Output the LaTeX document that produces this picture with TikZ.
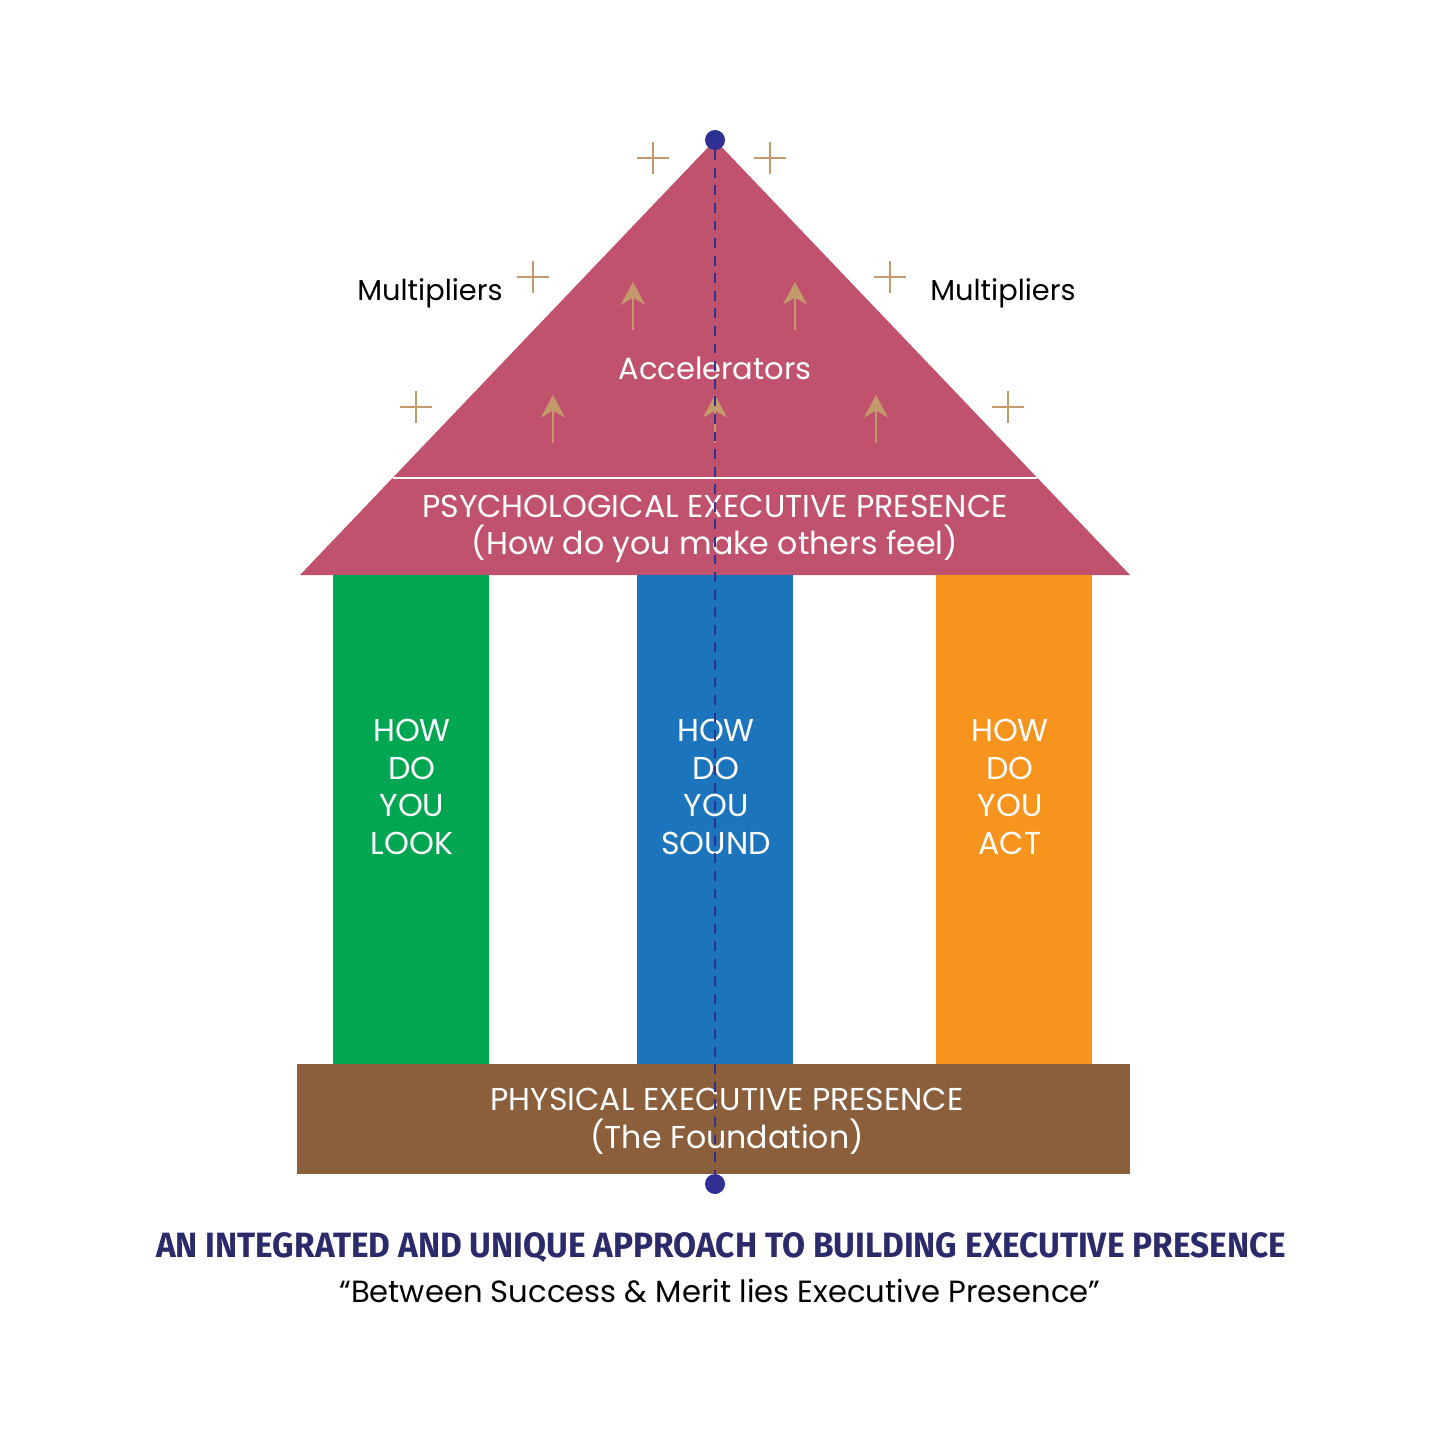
\documentclass[tikz,border=0pt]{standalone}
\usepackage{fontspec}
\setmainfont{Poppins}
\newfontfamily\titlefont{Fira Sans}
\usetikzlibrary{arrows.meta}
\definecolor{roofpink}{HTML}{C1526E}
\definecolor{lookgreen}{HTML}{00A651}
\definecolor{soundblue}{HTML}{1C75BC}
\definecolor{actorange}{HTML}{F7941D}
\definecolor{basebrown}{HTML}{8B5E3C}
\definecolor{accgold}{HTML}{C49A6C}
\definecolor{axisnavy}{HTML}{2E3192}
\definecolor{titlenavy}{HTML}{2B2A6B}
\tikzset{pillar/.style={draw=none,minimum width=3.9cm,minimum height=12.225cm,inner sep=0pt},
  wtext/.style={text=white,align=center,inner sep=0pt,font=\fontsize{22.5}{26.8}\selectfont},
  plus/.style={draw=accgold,line width=1.4pt},
  upar/.style={draw=accgold,line width=2pt,-{Stealth[length=16pt,width=17pt,inset=5pt]}},
  dot/.style={circle,fill=axisnavy,minimum size=0.5cm,inner sep=0pt}}

\begin{document}
\begin{tikzpicture}[x=0.025cm,y=-0.025cm]
\useasboundingbox (0,0) rectangle (1440,1440);
% roof
\fill[roofpink] (715,140)--(1130,575)--(300,575)--cycle;
\draw[white,line width=0.9pt] (393,478)--(1037,478);
\node[wtext] (psy) at (715,529){PSYCHOLOGICAL EXECUTIVE PRESENCE\\(How do you make others feel)};
\node[wtext,font=\fontsize{21.7}{26}\selectfont] (acc) at (715,368){Accelerators};
\foreach \x/\y in {633/330,795/330,553/443,715/443,876/443}{\draw[upar] (\x,\y)--(\x,\y-48);}
\foreach \x/\y in {653/158,770/158,533/277,890/277,416/407,1008/407}{\draw[plus] (\x-16,\y)--(\x+16,\y) (\x,\y-16)--(\x,\y+16);}
\node[font=\fontsize{20.5}{24}\selectfont] (mulL) at (430,293){Multipliers};
\node[font=\fontsize{20.5}{24}\selectfont] (mulR) at (1003,293){Multipliers};
% pillars
\node[pillar,fill=lookgreen] (look) at (411,819.5){};
\node[pillar,fill=soundblue] (sound) at (715,819.5){};
\node[pillar,fill=actorange] (act) at (1014,819.5){};
\node[wtext] at (412,787){HOW\\DO\\YOU\\LOOK};
\node[wtext] at (716,787){HOW\\DO\\YOU\\SOUND};
\node[wtext] at (1010,787){HOW\\DO\\YOU\\ACT};
% foundation
\node[fill=basebrown,minimum width=20.825cm,minimum height=2.75cm,inner sep=0pt] (base) at (713.5,1119){};
\node[wtext] (phys) at (727,1121){PHYSICAL EXECUTIVE PRESENCE\\(The Foundation)};
% axis
\node[dot] (top) at (715,140){};
\node[dot] (bot) at (715,1184){};
\draw[axisnavy,line width=1.8pt,dash pattern=on 7pt off 5.5pt] (top)--(bot);
% caption
\node[text=titlenavy,font=\titlefont\bfseries\fontsize{25}{28}\selectfont] (title) at (721,1248){\scalebox{0.95}[1]{AN INTEGRATED AND UNIQUE APPROACH TO BUILDING EXECUTIVE PRESENCE}};
\node[font=\fontsize{21.8}{26}\selectfont] (motto) at (720,1291){``Between Success \& Merit lies Executive Presence''};
\end{tikzpicture}
\end{document}
